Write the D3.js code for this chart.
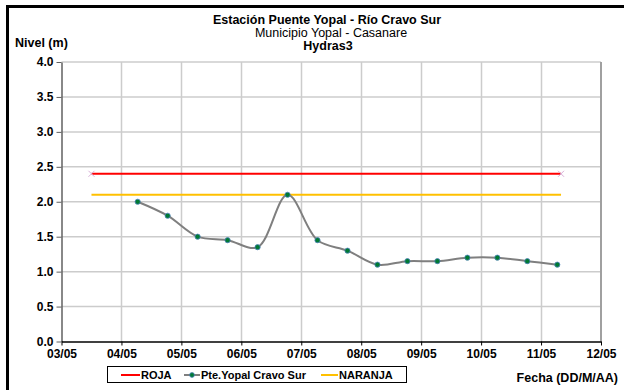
<!DOCTYPE html>
<head>
<meta charset="utf-8">
<script src="https://d3js.org/d3.v7.min.js"></script>
<style>
  body { margin: 0; background: #fff; }
  text { font-family: "Liberation Sans", Arial, sans-serif; }
</style>
</head>
<body>
<div id="chart"></div>
<script>
  // readings (DD/MM hh:mm) and levels in metres
  var times = ["04/05 06:30", "04/05 18:30", "05/05 06:30", "05/05 18:30", "06/05 06:30",
               "06/05 18:30", "07/05 06:30", "07/05 18:30", "08/05 06:30", "08/05 18:30",
               "09/05 06:30", "09/05 18:30", "10/05 06:30", "10/05 18:30", "11/05 06:30"];
  var levels = [2.0, 1.8, 1.5, 1.45, 1.35, 2.1, 1.45, 1.3, 1.1, 1.15, 1.15, 1.2, 1.2, 1.15, 1.1];
  var limitTimes = ["03/05 12:00", "11/05 08:00"];
  var roja = 2.4;
  var naranja = 2.1;
  var yTicks = [0, 0.5, 1, 1.5, 2, 2.5, 3, 3.5, 4];
  var xDays = ["03/05", "04/05", "05/05", "06/05", "07/05", "08/05", "09/05", "10/05", "11/05", "12/05"];

  var drawChart = function() {
  var parse = d3.timeParse("%d/%m/%Y %H:%M");
  var parseDay = d3.timeParse("%d/%m/%Y");
  var pts = times.map(function(t, i) { return {date: parse(t.replace(" ", "/2012 ")), value: levels[i]}; });
  var limDates = limitTimes.map(function(t) { return parse(t.replace(" ", "/2012 ")); });
  var dayDates = xDays.map(function(d) { return parseDay(d + "/2012"); });

  var width = 624, height = 390;
  var svg = d3.select("#chart").append("svg")
      .attr("width", width)
      .attr("height", height);

  // outer frame (cut off on right and bottom)
  svg.append("path")
      .attr("d", "M7.5,400 L7.5,6.5 L630,6.5")
      .attr("fill", "none").attr("stroke", "#000").attr("stroke-width", 3);

  var pL = 61.5, pR = 601, pT = 62, pB = 341.5;
  var x = d3.scaleTime().domain([dayDates[0], dayDates[dayDates.length - 1]]).range([pL, pR]);
  var y = d3.scaleLinear().domain([0, 4]).range([pB, pT]);

  // gridlines
  svg.append("g").selectAll("line").data(dayDates.slice(1, -1)).enter().append("line")
      .attr("x1", function(d) { return Math.round(x(d)) + 0.5; })
      .attr("x2", function(d) { return Math.round(x(d)) + 0.5; })
      .attr("y1", pT).attr("y2", pB)
      .attr("stroke", "#cccccc").attr("stroke-width", 1.5);
  svg.append("g").selectAll("line").data(yTicks.slice(1)).enter().append("line")
      .attr("x1", pL).attr("x2", pR)
      .attr("y1", function(d) { return y(d); })
      .attr("y2", function(d) { return y(d); })
      .attr("stroke", "#cccccc").attr("stroke-width", 1.5);
  svg.append("line")
      .attr("x1", pR).attr("x2", pR).attr("y1", pT).attr("y2", pB)
      .attr("stroke", "#a0a0a0").attr("stroke-width", 2);

  // axes
  var yAxis = svg.append("g")
      .attr("transform", "translate(" + pL + ",0)")
      .call(d3.axisLeft(y).tickValues(yTicks).tickSize(5).tickSizeOuter(0).tickFormat(d3.format(".1f")));
  yAxis.select(".domain").attr("stroke", "#606060").attr("stroke-width", 1.5);
  yAxis.selectAll(".tick line").attr("stroke", "#606060");
  yAxis.selectAll("text").attr("font-size", "12px").attr("font-weight", "bold")
      .attr("fill", "#000").attr("x", -8);

  var xAxis = svg.append("g")
      .attr("transform", "translate(0," + pB + ")")
      .call(d3.axisBottom(x).tickValues(dayDates).tickSize(4).tickSizeOuter(0).tickFormat(d3.timeFormat("%d/%m")));
  xAxis.select(".domain").attr("stroke", "#000").attr("stroke-width", 1.5);
  xAxis.selectAll(".tick line").attr("stroke", "#000");
  xAxis.selectAll("text").attr("font-size", "12px").attr("font-weight", "bold")
      .attr("fill", "#000").attr("y", 8);

  // threshold lines
  svg.append("line")
      .attr("x1", x(limDates[0])).attr("x2", x(limDates[1]))
      .attr("y1", y(roja)).attr("y2", y(roja))
      .attr("stroke", "#ff0000").attr("stroke-width", 2);
  svg.append("g").selectAll("path").data(limDates).enter().append("path")
      .attr("d", function(d) {
        var cx = x(d), cy = y(roja);
        return "M" + (cx - 3) + "," + (cy - 3) + "L" + (cx + 3) + "," + (cy + 3) +
               "M" + (cx - 3) + "," + (cy + 3) + "L" + (cx + 3) + "," + (cy - 3);
      })
      .attr("stroke", "#d8b0d8").attr("stroke-width", 1);
  svg.append("line")
      .attr("x1", x(limDates[0])).attr("x2", x(limDates[1]))
      .attr("y1", y(naranja)).attr("y2", y(naranja))
      .attr("stroke", "#ffc000").attr("stroke-width", 2);

  // series
  var line = d3.line()
      .x(function(d) { return x(d.date); })
      .y(function(d) { return y(d.value); })
      .curve(d3.curveCatmullRom.alpha(0.5));
  svg.append("path").datum(pts)
      .attr("d", line)
      .attr("fill", "none").attr("stroke", "#7f7f7f").attr("stroke-width", 2);
  svg.append("g").selectAll("circle").data(pts).enter().append("circle")
      .attr("cx", function(d) { return x(d.date); })
      .attr("cy", function(d) { return y(d.value); })
      .attr("r", 2.6)
      .attr("fill", "#007a33").attr("stroke", "#4f81bd").attr("stroke-width", 0.8);

  // titles
  svg.append("text").attr("x", 327).attr("y", 23.5).attr("text-anchor", "middle")
      .attr("font-size", "12.5px").attr("font-weight", "bold").text("Estación Puente Yopal - Río Cravo Sur");
  svg.append("text").attr("x", 331).attr("y", 36.5).attr("text-anchor", "middle")
      .attr("font-size", "12.5px").text("Municipio Yopal - Casanare");
  svg.append("text").attr("x", 328).attr("y", 49.5).attr("text-anchor", "middle")
      .attr("font-size", "12.5px").attr("font-weight", "bold").text("Hydras3");
  svg.append("text").attr("x", 15).attr("y", 46.5)
      .attr("font-size", "12.5px").attr("font-weight", "bold").text("Nivel (m)");
  svg.append("text").attr("x", 618).attr("y", 382).attr("text-anchor", "end")
      .attr("font-size", "12.5px").attr("font-weight", "bold").text("Fecha (DD/M/AA)");

  // legend
  var lg = svg.append("g");
  lg.append("rect").attr("x", 107.5).attr("y", 366.5).attr("width", 299).attr("height", 16)
      .attr("fill", "#fff").attr("stroke", "#000").attr("stroke-width", 1);
  var items = [
    {label: "ROJA", color: "#ff0000", x0: 121, x1: 140, marker: false},
    {label: "Pte.Yopal Cravo Sur", color: "#7f7f7f", x0: 184, x1: 200, marker: true},
    {label: "NARANJA", color: "#ffc000", x0: 321, x1: 338, marker: false}
  ];
  items.forEach(function(it) {
    lg.append("line").attr("x1", it.x0).attr("x2", it.x1).attr("y1", 375).attr("y2", 375)
        .attr("stroke", it.color).attr("stroke-width", 2);
    if (it.marker) {
      lg.append("circle").attr("cx", (it.x0 + it.x1) / 2).attr("cy", 375).attr("r", 2.4)
          .attr("fill", "#007a33").attr("stroke", "#4f81bd").attr("stroke-width", 0.8);
    }
    lg.append("text").attr("x", it.x1 + 1).attr("y", 379)
        .attr("font-size", "11px").attr("font-weight", "bold").text(it.label);
  });
  };

  drawChart();
</script>
</body>
</html>
